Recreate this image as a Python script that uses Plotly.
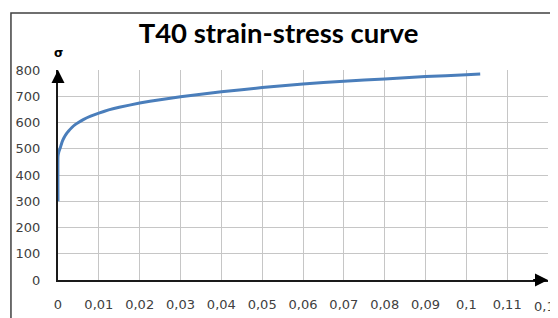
import plotly.graph_objects as go

strain = [0, 0, 0.0002, 0.0006, 0.001, 0.0014, 0.002, 0.0026, 0.0034, 0.0042, 0.005,
          0.0063, 0.008, 0.01, 0.0124, 0.015, 0.02, 0.025, 0.03, 0.04, 0.05,
          0.06, 0.07, 0.08, 0.09, 0.1, 0.1034]
stress = [300, 470, 488, 506, 526, 540, 556, 568, 581, 592, 600,
          612, 624, 636, 648, 658, 674, 687, 698, 717, 733,
          747, 757, 766, 775, 782, 785]

title_text = "T40 strain-stress curve"
y_label = "σ"
x_range = [0, 0.12]
y_range = [0, 800]
last_x_label = "0,12"

# page body has an 8px margin; figure is sized to fill the rest of the window
W, H = 550, 310

fig = go.Figure()
fig.add_trace(go.Scatter(x=strain, y=stress, mode="lines",
                         line=dict(color="#4a7ebb", width=3, shape="spline", smoothing=0.3),
                         cliponaxis=False, hoverinfo="skip", showlegend=False))

axis_color = "#404040"
grid_color = "#c6c6c6"
tick_font = dict(family="DejaVu Sans", size=13, color="#404040")

fig.update_xaxes(range=x_range, dtick=0.01, tick0=0, showgrid=True, gridcolor=grid_color,
                 gridwidth=1.3, zeroline=False, showline=True, linecolor="#1a1a1a", linewidth=2,
                 tickfont=tick_font, ticks="", ticklabelstandoff=11, automargin=False,
                 fixedrange=True, layer="below traces")
fig.update_yaxes(range=y_range, dtick=100, tick0=0, showgrid=True, gridcolor=grid_color,
                 gridwidth=1.3, zeroline=False, showline=True, linecolor="#1a1a1a", linewidth=2,
                 tickfont=tick_font, ticks="", ticklabelstandoff=13, automargin=False,
                 fixedrange=True, layer="below traces")

# arrow heads
fig.add_annotation(x=0, y=y_range[1], ax=0, ay=y_range[1] - 40, xref="x", yref="y",
                   axref="x", ayref="y", showarrow=True, arrowhead=2, arrowsize=1.3,
                   arrowwidth=2, arrowcolor="#000000", text="")
fig.add_annotation(x=x_range[1], y=0, ax=x_range[1] - 0.004, ay=0, xref="x", yref="y",
                   axref="x", ayref="y", showarrow=True, arrowhead=2, arrowsize=1.3,
                   arrowwidth=2, arrowcolor="#000000", text="")
fig.add_annotation(x=0, y=1.079, xref="x", yref="paper", text="<b>" + y_label + "</b>",
                   showarrow=False, xanchor="center", yanchor="middle",
                   font=dict(family="DejaVu Sans", size=12, color="#000000"))
fig.add_annotation(x=x_range[1], y=-26 / 210, xref="x", yref="paper", text=last_x_label,
                   showarrow=False, xanchor="center", yanchor="middle", font=tick_font)

# chart frame
fig.add_shape(type="rect", xref="paper", yref="paper", x0=-0.096, x1=1.2, y0=-0.5, y1=1.271,
              line=dict(color=axis_color, width=1.5), fillcolor="rgba(0,0,0,0)", layer="below")

fig.update_layout(
    width=W, height=H,
    margin=dict(l=50, r=10, t=62, b=38),
    paper_bgcolor="white", plot_bgcolor="white",
    separators=", ",
    title=dict(text="<b>" + title_text + "</b>", x=(278.5 - 8) / W, xref="container",
               xanchor="center", y=1 - 25 / H, yref="container", yanchor="middle",
               font=dict(family="Lato", size=27.5, color="#000000")),
    showlegend=False,
)

fig.write_html("out.html", config={"displayModeBar": False})
